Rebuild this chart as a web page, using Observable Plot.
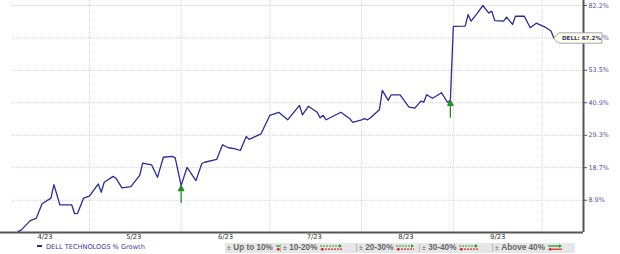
<!DOCTYPE html>
<html><head><meta charset="utf-8">
<script src="https://cdn.jsdelivr.net/npm/d3@7"></script>
<script src="https://cdn.jsdelivr.net/npm/@observablehq/plot@0.6"></script>
<style>
body{margin:0;background:#fff;font-family:"DejaVu Sans",Verdana,sans-serif;width:620px;height:254px;overflow:hidden}
#chart svg{display:block}
#legend{position:relative;width:620px;height:12px}
#series{position:absolute;left:37px;top:1px;font-size:6.6px;color:#3a3aa0;white-space:nowrap;line-height:8px}
#series .dash{display:inline-block;width:5px;height:1.5px;background:#2b2b9c;vertical-align:middle;margin-right:4px;position:relative;top:-1px}
#box{position:absolute;left:225px;top:0.7px;width:350px;height:10.6px;background:#e6e6e6;display:flex;align-items:center;font-family:"Liberation Sans",Arial,sans-serif;font-size:8.2px;font-weight:bold;color:#666;white-space:nowrap}
#box .item{display:flex;align-items:center;box-sizing:border-box;padding:0 0 0 2px;border-right:1px solid #b8b8b8;height:8px;flex:none}
#box .item:last-child{border-right:none}
#box .pm{font-weight:normal;margin-right:2.5px;font-size:6.8px}
#box svg{margin-left:3px}
</style></head><body>
<div id="chart"></div>
<div id="legend"></div>
<script>
// ---- data ----
const dates = [
"2023-04-07","2023-04-08","2023-04-11","2023-04-13","2023-04-15","2023-04-18","2023-04-19","2023-04-21","2023-04-25","2023-04-26",
"2023-04-27","2023-04-29","2023-05-01","2023-05-04","2023-05-05","2023-05-06","2023-05-09","2023-05-10","2023-05-12","2023-05-15",
"2023-05-18","2023-05-19","2023-05-22","2023-05-24","2023-05-26","2023-05-29","2023-05-30","2023-06-01","2023-06-03","2023-06-06",
"2023-06-08","2023-06-09","2023-06-13","2023-06-15","2023-06-17","2023-06-19","2023-06-21","2023-06-23","2023-06-24","2023-06-28",
"2023-07-01","2023-07-04","2023-07-07","2023-07-11","2023-07-12","2023-07-14","2023-07-17","2023-07-18","2023-07-19","2023-07-20",
"2023-07-25","2023-07-28","2023-07-29","2023-08-01","2023-08-02","2023-08-03","2023-08-04","2023-08-07","2023-08-08","2023-08-10",
"2023-08-11","2023-08-14","2023-08-17","2023-08-19","2023-08-21","2023-08-22","2023-08-23","2023-08-25","2023-08-28","2023-08-30",
"2023-08-31","2023-09-01","2023-09-05","2023-09-06","2023-09-07","2023-09-09","2023-09-11","2023-09-13","2023-09-14","2023-09-15",
"2023-09-18","2023-09-19","2023-09-21","2023-09-22","2023-09-25","2023-09-27","2023-09-29","2023-10-02","2023-10-04","2023-10-05"];
const growth = [
0.3,0.7,3.2,3.8,7.9,9.5,13.5,7.6,7.6,5.1,
5.2,9.5,10.1,13.7,11.2,14.2,16.0,15.4,12.5,12.9,
16.3,20.1,19.6,15.7,22.0,22.3,21.8,13.2,18.8,14.7,
20.0,20.4,21.3,26.1,25.1,24.8,24.2,28.9,27.9,29.8,
36.3,37.4,34.7,39.9,36.5,39.6,37.4,35.4,36.3,34.7,
37.4,35.1,33.8,34.7,35.1,34.7,35.4,38.3,45.6,41.8,
43.9,43.9,39.3,38.9,41.5,41.1,43.9,42.6,44.7,41.1,
41.8,72.4,72.5,77.9,74.8,78.3,82.2,78.6,79.5,75.1,
74.8,76.7,73.3,77.1,77.1,71.8,73.9,72.1,70.3,67.2];
const seriesName = "DELL TECHNOLOGS % Growth";
const tagName = "DELL";
const yTickLabels = [8.9, 18.7, 29.3, 40.9, 53.5, 67.2, 82.2];
const xTickLabels = ["4/23", "5/23", "6/23", "7/23", "8/23", "9/23"];
const xTickDates = ["2023-04-16", "2023-05-16", "2023-06-16", "2023-07-16", "2023-08-16", "2023-09-16"];
const monthStarts = ["2023-05-01", "2023-06-01", "2023-07-01", "2023-08-01", "2023-09-01", "2023-10-01"];
const xDomain = ["2023-04-05", "2023-10-15"];
const eventDates = ["2023-06-01", "2023-08-31"];
const legendBuckets = ["Up to 10%", "10-20%", "20-30%", "30-40%", "Above 40%"];

// ---- build ----
const data = dates.map((d, i) => ({date: new Date(d), g: growth[i], v: 1 + growth[i] / 100}));
const last = data[data.length - 1];
const events = eventDates.map(d => data.find(p => +p.date === +new Date(d)));
const yVals = yTickLabels.map(t => 1 + t / 100);
const labelOf = new Map(xTickDates.map((d, i) => [+new Date(d), xTickLabels[i]]));
const xEnd = new Date(xDomain[1]);

const arrowShape = {draw(ctx, l) {
  ctx.moveTo(0, 0); ctx.lineTo(0, -l + 4);
  ctx.moveTo(-2.6, -l + 5); ctx.lineTo(0, -l); ctx.lineTo(2.6, -l + 5); ctx.closePath();
}};
const tagShape = {draw(ctx) {
  ctx.moveTo(0, 0); ctx.lineTo(5, -5.2); ctx.lineTo(48, -5.2); ctx.lineTo(48, 5.2); ctx.lineTo(5, 5.2); ctx.closePath();
}};

const chart = Plot.plot({
  width: 620, height: 242,
  marginTop: 0, marginBottom: 10, marginLeft: 12, marginRight: 37,
  style: {fontFamily: "DejaVu Sans, Verdana, sans-serif", background: "#fff"},
  x: {type: "utc", domain: xDomain.map(d => new Date(d))},
  y: {type: "log", domain: [1, yVals[yVals.length - 1]], insetTop: 5},
  marks: [
    Plot.gridY(yVals, {stroke: "#d0d0d0", strokeOpacity: 1, strokeDasharray: "1,1"}),
    Plot.gridX(monthStarts.map(d => new Date(d)), {stroke: "#d6d6d6", strokeOpacity: 1, strokeDasharray: "1,1"}),
    Plot.ruleY([1], {stroke: "#555", strokeWidth: 2, insetLeft: -12}),
    Plot.ruleX([xEnd], {stroke: "#555", strokeWidth: 2}),
    Plot.axisY(yVals, {anchor: "right", label: null, tickSize: 3, tickPadding: 2, stroke: "#555", fill: "#5050a8", fontSize: 6.4,
      tickFormat: d => ((d - 1) * 100).toFixed(1) + "%"}),
    Plot.axisX(xTickDates.map(d => new Date(d)), {label: null, tickSize: 0, tickPadding: 2, fill: "#333", fontSize: 6.8,
      tickFormat: d => labelOf.get(+d)}),
    Plot.lineY(data, {x: "date", y: "v", stroke: "#2b2b9c", strokeWidth: 1.3}),
    Plot.vector(events, {x: "date", y: "v", length: 17, anchor: "end", shape: arrowShape,
      stroke: "#2a8c2a", fill: "#2a8c2a", strokeWidth: 1.3}),
    Plot.vector([last], {x: "date", y: "v", length: 1, anchor: "start", shape: tagShape,
      stroke: "#8c8cb0", fill: "#ffffe4", strokeWidth: 0.8}),
    Plot.text([last], {x: "date", y: "v", text: d => `${tagName}: ${d.g}%`, dx: 8, textAnchor: "start",
      fontSize: 5.6, fontWeight: "bold", fill: "#33337a"})
  ]
});
document.getElementById("chart").append(chart);

// ---- legend ----
const legend = document.getElementById("legend");
const s = document.createElement("div");
s.id = "series";
s.innerHTML = `<span class="dash"></span>`;
s.append(document.createTextNode(seriesName));
legend.append(s);

const itemW = [56, 76, 63, 73, 82];
const iconW = [10, 22, 18, 19, 14];
const iconDash = [null, "2,1", "2,1", "2,1", null];
const box = document.createElement("div");
box.id = "box";
legendBuckets.forEach((b, i) => {
  const it = document.createElement("div");
  it.className = "item";
  it.style.width = itemW[i] + "px";
  const pm = document.createElement("span"); pm.className = "pm"; pm.textContent = "±";
  const lab = document.createElement("span"); lab.textContent = b;
  it.append(pm, lab);
  const w = iconW[i];
  const svg = d3.create("svg").attr("width", w).attr("height", 7);
  const da = iconDash[i];
  svg.append("line").attr("x1", 0).attr("x2", w - 2).attr("y1", 2).attr("y2", 2).attr("stroke", "#1e9a1e").attr("stroke-width", 1.2).attr("stroke-dasharray", da);
  svg.append("path").attr("d", `M${w - 3},0.2L${w},2L${w - 3},3.8Z`).attr("fill", "#1e9a1e");
  svg.append("line").attr("x1", 2).attr("x2", w).attr("y1", 5.2).attr("y2", 5.2).attr("stroke", "#e02020").attr("stroke-width", 1.2).attr("stroke-dasharray", da);
  svg.append("path").attr("d", `M3,3.4L0,5.2L3,7Z`).attr("fill", "#e02020");
  it.append(svg.node());
  box.append(it);
});
legend.append(box);
</script>
</body></html>
